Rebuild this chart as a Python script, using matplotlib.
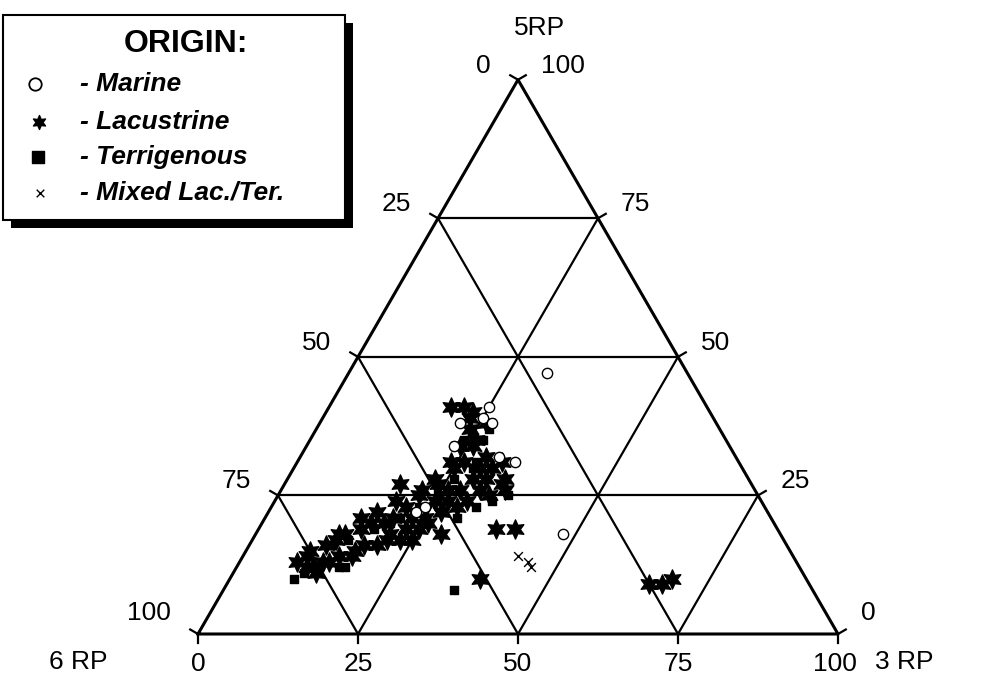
import numpy as np
import matplotlib.pyplot as plt
from matplotlib.patches import Rectangle

plt.rcParams['font.family'] = ['Liberation Sans', 'DejaVu Sans']

# ternary values in percent: 3RP (bottom axis), 5RP (apex); 6RP = 100 - 3RP - 5RP
lac_3rp = [19, 21, 23, 18, 23, 34, 37, 40, 29, 39, 66, 68, 69, 15, 13, 10, 11, 9,
           12, 13, 14, 16, 17, 19, 20, 23, 21, 22, 25, 25, 26, 29, 25, 26, 29, 31,
           33, 26, 29, 24, 31, 34, 28, 21, 25, 26, 20, 17, 15, 13, 12,
           24, 29, 31, 30, 27, 24, 22, 23, 19, 17, 27, 24, 26, 23, 26,
           14, 17, 18, 21, 23, 25, 10, 13, 32, 35]
lac_5rp = [41, 41, 40, 27, 28, 28, 19, 19, 18, 10, 9, 9, 10, 21, 18, 15, 12, 13,
           16, 17, 18, 19, 20, 20, 21, 19, 23, 25, 21, 24, 26, 23, 30, 31, 28, 26,
           25, 34, 32, 37, 30, 27, 26, 18, 17, 20, 16, 15, 14, 13, 12,
           31, 30, 28, 24, 24, 27, 26, 21, 24, 22, 22, 34, 35, 39, 38,
           13, 14, 16, 17, 17, 19, 14, 11, 31, 26]

ter_3rp = [36, 10, 16, 17, 11, 13, 15, 18, 20, 21, 23, 25, 26, 28, 28, 27, 27,
           24, 34, 36, 30, 32]
ter_5rp = [8, 10, 12, 12, 11, 16, 17, 19, 20, 21, 23, 25, 28, 30, 31, 35, 37,
           35, 24, 25, 21, 23]

mar_3rp = [25, 25, 22, 27, 23, 34, 31, 23, 24, 31, 48]
mar_5rp = [41, 39, 38, 38, 34, 31, 32, 22, 23, 47, 18]

mix_3rp = [46, 43, 45]
mix_5rp = [12, 14, 13]

grid_vals = [25, 50, 75]
tick_vals = [0, 25, 50, 75, 100]


def tern(b, c):
    b = np.asarray(b, dtype=float) / 100.0
    c = np.asarray(c, dtype=float) / 100.0
    return b + c / 2.0, c * np.sqrt(3) / 2.0


fig = plt.figure(figsize=(9.82, 6.9), dpi=100)
ax = fig.add_axes([0, 0, 1, 1])
ax.set_xlim(-198 / 640, 784 / 640)
ax.set_ylim(-56 / 640, 634 / 640)
ax.axis('off')

# outer triangle
tx, ty = tern([0, 100, 0, 0], [0, 0, 100, 0])
ax.plot(tx, ty, color='black', lw=2.2, zorder=3)

# grid lines
for v in grid_vals:
    x, y = tern([0, 100 - v], [v, v])
    ax.plot(x, y, color='black', lw=1.6, zorder=2)
    x, y = tern([v, v], [0, 100 - v])
    ax.plot(x, y, color='black', lw=1.6, zorder=2)
    x, y = tern([100 - v, 0], [0, 100 - v])
    ax.plot(x, y, color='black', lw=1.6, zorder=2)

# edge ticks and labels
tl = 9 / 640
s3 = np.sqrt(3) / 2
for v in tick_vals:
    x, y = tern([v], [0])
    ax.plot([x[0], x[0]], [y[0], y[0] - tl], color='black', lw=1.6)
    ax.annotate(str(v), (x[0], y[0]), xytext=(-3 if v == 100 else 0, -30),
                textcoords='offset pixels', ha='center', va='center', fontsize=19)
    x, y = tern([0], [100 - v])
    ax.plot([x[0], x[0] - s3 * tl], [y[0], y[0] + 0.5 * tl], color='black', lw=1.6)
    ax.annotate(str(v), (x[0], y[0]), xytext=(-27, 21 if v == 100 else 14),
                textcoords='offset pixels', ha='right', va='center', fontsize=19)
    x, y = tern([100 - v], [v])
    ax.plot([x[0], x[0] + s3 * tl], [y[0], y[0] + 0.5 * tl], color='black', lw=1.6)
    ax.annotate(str(v), (x[0], y[0]), xytext=(23, 21 if v == 0 else 14),
                textcoords='offset pixels', ha='left', va='center', fontsize=19)

# vertex names
x, y = tern([0, 100, 0], [0, 0, 100])
ax.annotate('6 RP', (x[0], y[0]), xytext=(-120, -28), textcoords='offset pixels',
            ha='center', va='center', fontsize=19)
ax.annotate('3 RP', (x[1], y[1]), xytext=(66, -28), textcoords='offset pixels',
            ha='center', va='center', fontsize=19)
ax.annotate('5RP', (x[2], y[2]), xytext=(22, 52), textcoords='offset pixels',
            ha='center', va='center', fontsize=19)

# data
x, y = tern(ter_3rp, ter_5rp)
ax.scatter(x, y, marker='s', s=40, color='black', zorder=4)
x, y = tern(lac_3rp, lac_5rp)
ax.scatter(x, y, marker=(6, 1, 0), s=190, color='black', zorder=5)
x, y = tern(mar_3rp, mar_5rp)
ax.scatter(x, y, marker='o', s=55, facecolor='white', edgecolor='black',
           linewidth=1.0, zorder=6)
x, y = tern(mix_3rp, mix_5rp)
ax.scatter(x, y, marker='x', s=40, color='black', linewidth=1.0, zorder=6)

# legend box (pixel coordinates)
lax = fig.add_axes([0, 0, 1, 1], zorder=10)
lax.set_xlim(0, 982)
lax.set_ylim(690, 0)
lax.axis('off')
lax.add_patch(Rectangle((11, 23), 342, 205, facecolor='black', edgecolor='none'))
lax.add_patch(Rectangle((3, 15), 342, 205, facecolor='white', edgecolor='black', lw=1.5))
lax.text(186, 44, 'ORIGIN:', fontsize=23, fontweight='bold', ha='center', va='center')
rows = [84, 122, 157, 193]
names = ['- Marine', '- Lacustrine', '- Terrigenous', '- Mixed Lac./Ter.']
lax.scatter([35], [rows[0]], marker='o', s=80, facecolor='white', edgecolor='black', lw=1.3)
lax.scatter([39], [rows[1]], marker=(6, 1, 0), s=100, color='black')
lax.scatter([38], [rows[2]], marker='s', s=70, color='black')
lax.scatter([40], [rows[3]], marker='x', s=30, color='black', lw=1.0)
for r, n in zip(rows, names):
    lax.text(80, r, n, fontsize=19, fontweight='bold', fontstyle='italic',
             ha='left', va='center')

fig.savefig('out.png', dpi=100)
